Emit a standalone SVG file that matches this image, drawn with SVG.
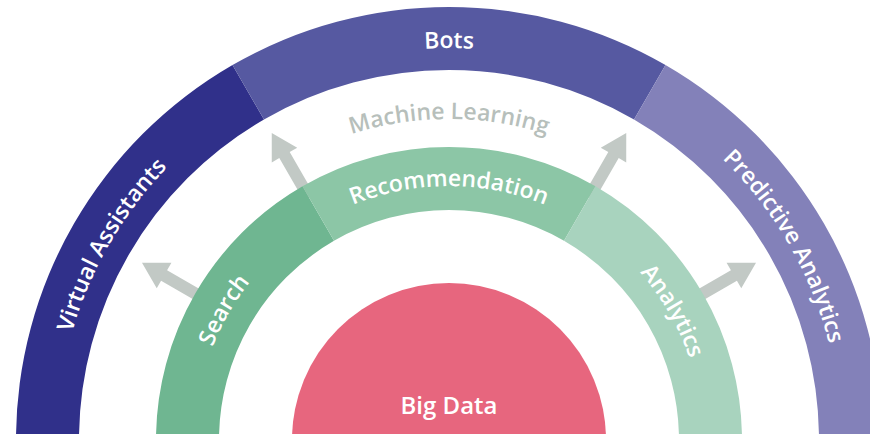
<svg xmlns="http://www.w3.org/2000/svg" width="870" height="434" viewBox="0 0 870 434">
  <style>
    .lbl { font-family: "Open Sans", "Liberation Sans", sans-serif; font-weight: 600; font-size: 23px; fill: #ffffff; }
    .ml { font-family: "Open Sans", "Liberation Sans", sans-serif; font-weight: 600; font-size: 23px; fill: #b7bfbb; }
    .arrow { fill: #c2c9c5; }
  </style>
  <defs>
    <path id="pOuter" d="M 57,440 A 392 392 0 0 1 841,440"/>
    <path id="pML" d="M 128,440 A 321 321 0 0 1 770,440"/>
    <path id="pGreen" d="M 195,440 A 254 254 0 0 1 703,440"/>
    <polygon id="arr" points="280,-6 329,-6 329,-14.7 354.5,0 329,14.7 329,6 280,6"/>
  </defs>
  <rect width="870" height="434" fill="#ffffff"/>

  <g id="connectors">
    <use href="#arr" class="arrow" transform="translate(449,440) rotate(-150)"/>
    <use href="#arr" class="arrow" transform="translate(449,440) rotate(-120)"/>
    <use href="#arr" class="arrow" transform="translate(449,440) rotate(-60)"/>
    <use href="#arr" class="arrow" transform="translate(449,440) rotate(-30)"/>
  </g>

  <g id="virtual-assistants">
    <path d="M 16,440 A 433 433 0 0 1 232.5,65.01 L 264,119.57 A 370 370 0 0 0 79,440 Z" fill="#30308a"/>
    <text class="lbl" text-anchor="middle"><textPath href="#pOuter" startOffset="16.667%">Virtual Assistants</textPath></text>
  </g>
  <g id="bots">
    <path d="M 232.5,65.01 A 433 433 0 0 1 665.5,65.01 L 634,119.57 A 370 370 0 0 0 264,119.57 Z" fill="#5659a1"/>
    <text class="lbl" text-anchor="middle"><textPath href="#pOuter" startOffset="50%">Bots</textPath></text>
  </g>
  <g id="predictive-analytics">
    <path d="M 665.5,65.01 A 433 433 0 0 1 882,440 L 819,440 A 370 370 0 0 0 634,119.57 Z" fill="#8381b9"/>
    <text class="lbl" text-anchor="middle"><textPath href="#pOuter" startOffset="83.333%">Predictive Analytics</textPath></text>
  </g>

  <g id="machine-learning">
    <text class="ml" text-anchor="middle"><textPath href="#pML" startOffset="50%">Machine Learning</textPath></text>
  </g>

  <g id="search">
    <path d="M 156,440 A 293 293 0 0 1 302.5,186.26 L 334,240.81 A 230 230 0 0 0 219,440 Z" fill="#6fb691"/>
    <text class="lbl" text-anchor="middle"><textPath href="#pGreen" startOffset="16.667%">Search</textPath></text>
  </g>
  <g id="recommendation">
    <path d="M 302.5,186.26 A 293 293 0 0 1 595.5,186.26 L 564,240.81 A 230 230 0 0 0 334,240.81 Z" fill="#8cc6a6"/>
    <text class="lbl" text-anchor="middle"><textPath href="#pGreen" startOffset="50%">Recommendation</textPath></text>
  </g>
  <g id="analytics">
    <path d="M 595.5,186.26 A 293 293 0 0 1 742,440 L 679,440 A 230 230 0 0 0 564,240.81 Z" fill="#a8d3be"/>
    <text class="lbl" text-anchor="middle"><textPath href="#pGreen" startOffset="83.333%">Analytics</textPath></text>
  </g>

  <g id="big-data">
    <circle cx="449" cy="440" r="157" fill="#e7667e"/>
    <text class="lbl" x="449" y="414" text-anchor="middle" style="font-size:24px">Big Data</text>
  </g>
</svg>
